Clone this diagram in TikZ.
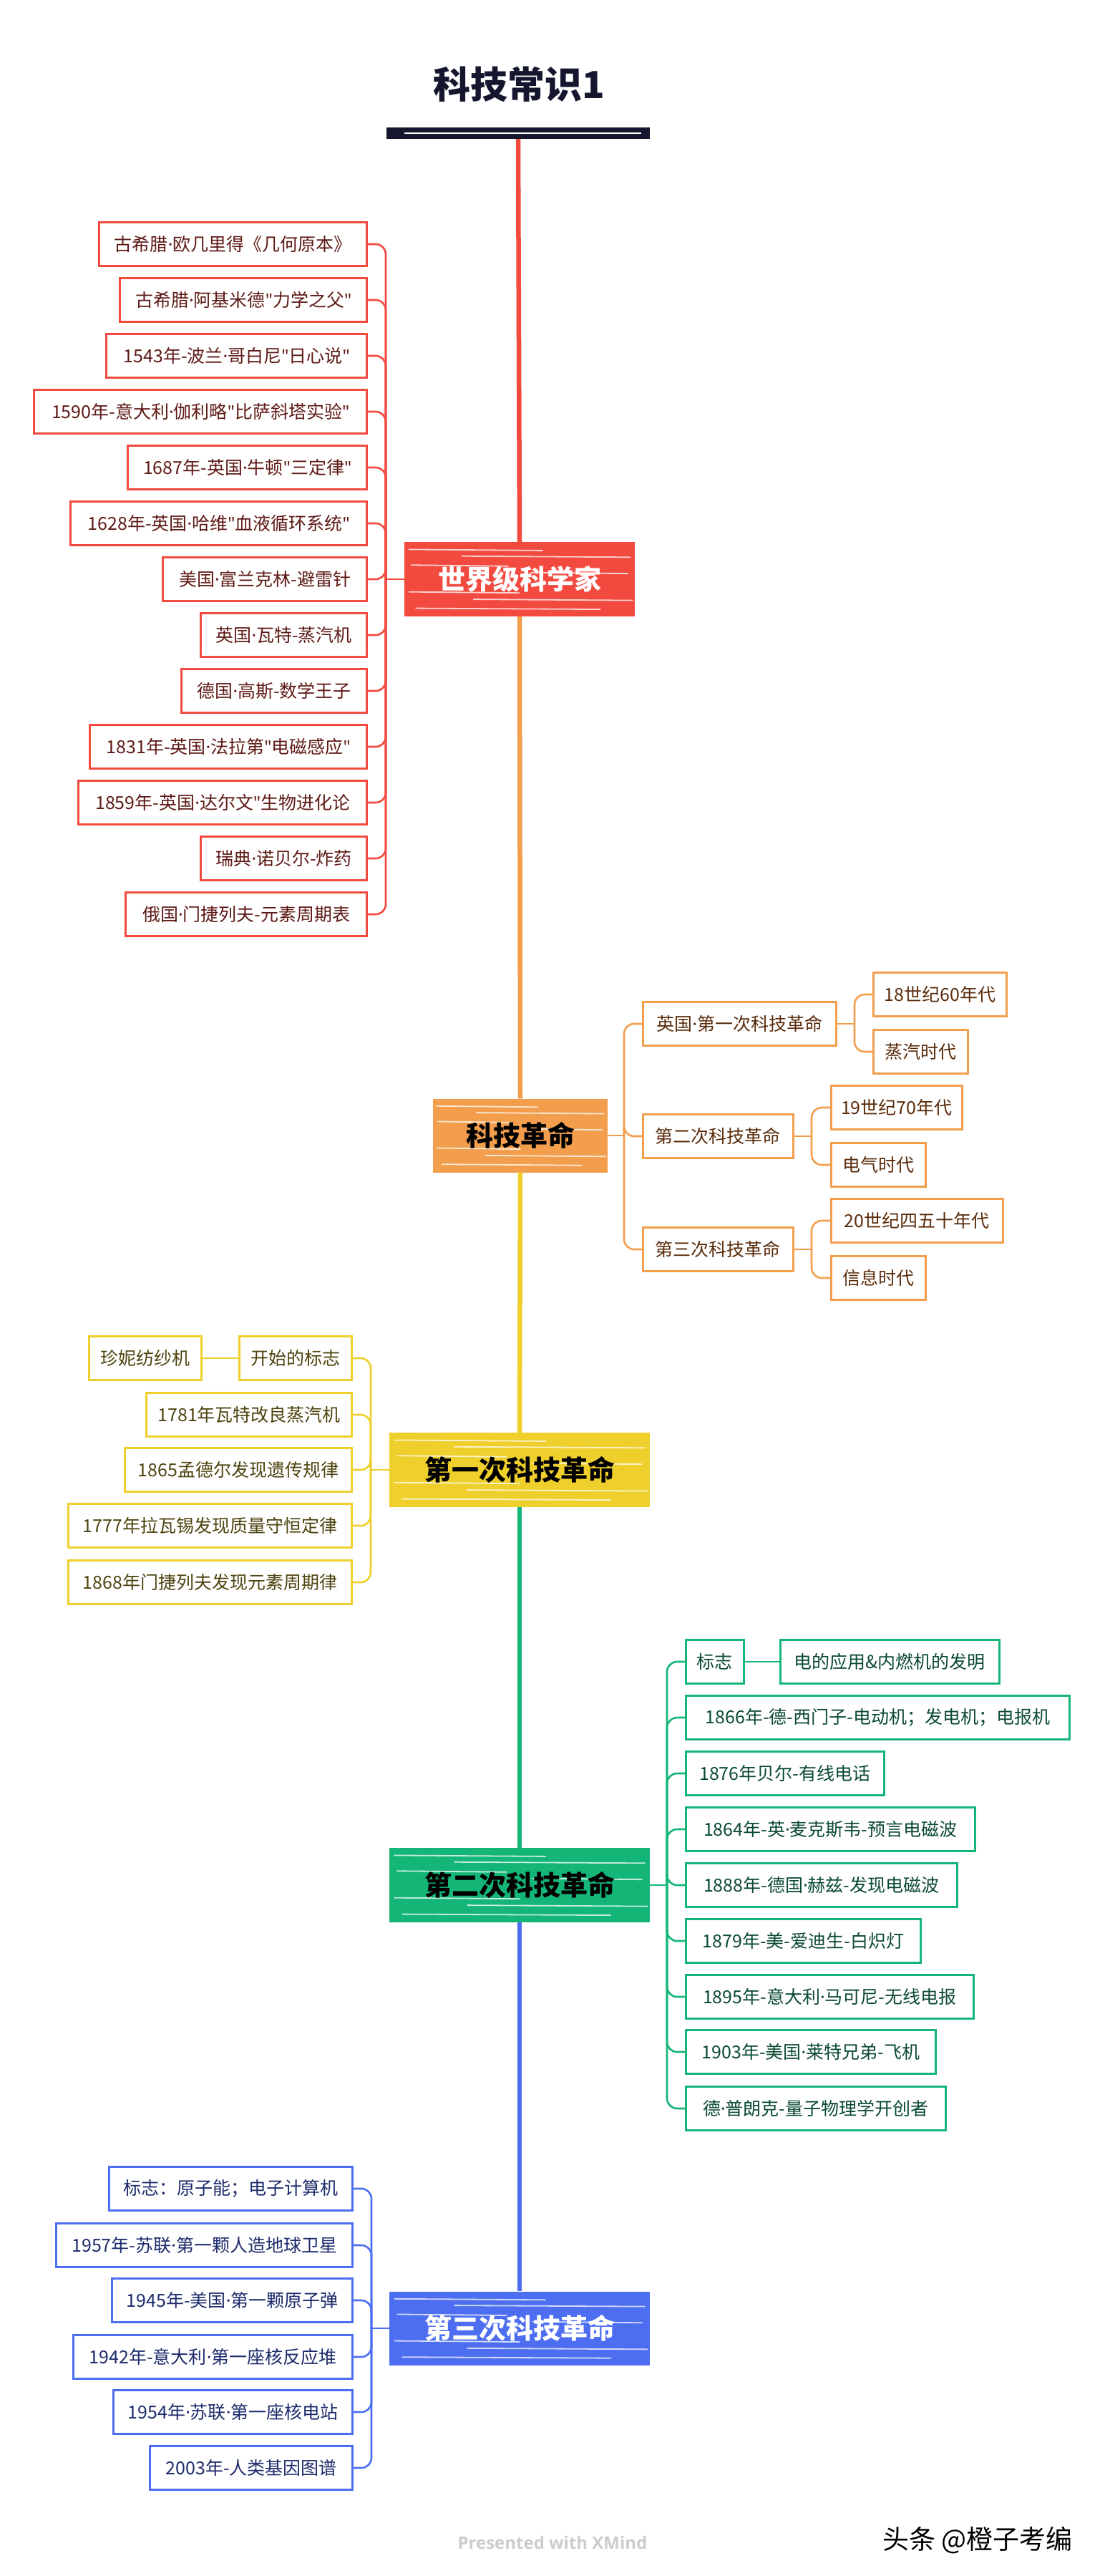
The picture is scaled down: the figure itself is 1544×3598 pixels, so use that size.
\documentclass[tikz,border=0pt]{standalone}
\usepackage{fontspec}
\setmainfont{Noto Sans CJK SC}
\newfontfamily\footf{Open Sans}
\newfontfamily\latn{Noto Sans}
\newcommand\xdot{{\latn ·}}
\newcommand\xq{{\latn "}}
\usetikzlibrary{calc}
\definecolor{cred}{HTML}{F24A3F}
\definecolor{credt}{HTML}{5E1A16}
\definecolor{cora}{HTML}{F39E4D}
\definecolor{corat}{HTML}{5A2C0C}
\definecolor{cyel}{HTML}{EFCF2B}
\definecolor{cyelt}{HTML}{4E4410}
\definecolor{cgre}{HTML}{14B678}
\definecolor{cgret}{HTML}{0B4A31}
\definecolor{cblu}{HTML}{4D6EF1}
\definecolor{cblut}{HTML}{1D2B6B}
\definecolor{cnav}{HTML}{14172E}
\definecolor{cfoot}{HTML}{CCCCCC}
\tikzset{
  box/.style={draw, line width=2.6pt, fill=white, minimum height=61pt, inner sep=0pt,
    font=\fontsize{25}{25}\selectfont, align=center},
  mainbox/.style={inner sep=0pt, font=\fontsize{38}{38}\selectfont\bfseries},
  conn/.style={line width=2.6pt, rounded corners=14pt},
  spine/.style={line width=6.5pt},
}
\newcommand\skh[4]{%
  \foreach \fy/\xa/\xb in {0.10/0.02/0.60, 0.19/0.25/0.98, 0.31/0.03/0.45, 0.41/0.55/0.97, 0.67/0.02/0.50, 0.77/0.30/0.99, 0.89/0.05/0.85}{
    \draw[white, line width=1.8pt, opacity=0.75, line cap=round]
      ({#1+(\xa-0.5)*#3},{#2+(\fy-0.5)*#4}) -- ({#1+(\xb-0.5)*#3},{#2+(\fy-0.5)*#4+1.5});
  }}
\newcommand\mainnode[8]{%
  \fill[#6] ({#2-#4/2},{#3-#5/2}) rectangle ({#2+#4/2},{#3+#5/2});
  \skh{#2}{#3}{#4}{#5}
  \node[mainbox, text=#7, minimum width=#4pt, minimum height=#5pt] (#1) at (#2,#3) {#8};}
\begin{document}
\begin{tikzpicture}[x=1pt,y=-1pt]
\useasboundingbox[fill=white] (0,0) rectangle (1544,3598);

% title and bar
\node[font=\fontsize{52}{52}\selectfont\bfseries, text=cnav] (title) at (725,118) {科技常识1};
\node[fill=cnav, minimum width=368pt, minimum height=16pt, inner sep=0pt] (bar) at (724,186) {};
\draw[white, line width=1.4pt] ($(bar.west)+(25,0)$) -- ($(bar.east)+(-12,0)$);

% main nodes
\mainnode{sci}{726}{809}{322}{104}{cred}{white}{世界级科学家}
\mainnode{ktm}{727}{1586}{244}{103}{cora}{black}{科技革命}
\mainnode{r1m}{726}{2053}{364}{104}{cyel}{black}{第一次科技革命}
\mainnode{r2m}{726}{2633}{364}{104}{cgre}{black}{第二次科技革命}
\mainnode{r3m}{726}{3252}{364}{103}{cblu}{white}{第三次科技革命}

% spine
\draw[spine, cred] (bar.south) -- (sci.north);
\draw[spine, cora] (sci.south) -- (ktm.north);
\draw[spine, cyel] (ktm.south) -- (r1m.north);
\draw[spine, cgre] (r1m.south) -- (r2m.north);
\draw[spine, cblu] (r2m.south) -- (r3m.north);

% ---------- red branch ----------
\begin{scope}[every node/.append style={box, draw=cred, text=credt, anchor=east}]
\node[minimum width=374pt] (a1) at (514,341) {古希腊\xdot 欧几里得《几何原本》};
\node[minimum width=345pt] (a2) at (514,419) {古希腊\xdot 阿基米德\xq 力学之父\xq};
\node[minimum width=364pt] (a3) at (514,497) {1543年-波兰\xdot 哥白尼\xq 日心说\xq};
\node[minimum width=465pt] (a4) at (514,575) {1590年-意大利\xdot 伽利略\xq 比萨斜塔实验\xq};
\node[minimum width=334pt] (a5) at (514,653) {1687年-英国\xdot 牛顿\xq 三定律\xq};
\node[minimum width=414pt] (a6) at (514,731) {1628年-英国\xdot 哈维\xq 血液循环系统\xq};
\node[minimum width=285pt] (a7) at (514,809) {美国\xdot 富兰克林-避雷针};
\node[minimum width=232pt] (a8) at (514,887) {英国\xdot 瓦特-蒸汽机};
\node[minimum width=259pt] (a9) at (514,965) {德国\xdot 高斯-数学王子};
\node[minimum width=387pt] (a10) at (514,1043) {1831年-英国\xdot 法拉第\xq 电磁感应\xq};
\node[minimum width=403pt] (a11) at (514,1121) {1859年-英国\xdot 达尔文\xq 生物进化论};
\node[minimum width=232pt] (a12) at (514,1199) {瑞典\xdot 诺贝尔-炸药};
\node[minimum width=337pt] (a13) at (514,1277) {俄国\xdot 门捷列夫-元素周期表};
\end{scope}
\coordinate (ja) at (539,809);
\draw[conn, cred] (sci.west) -- (ja);
\foreach \i in {1,...,13}{\draw[conn, cred] (ja) |- (a\i.east);}

% ---------- orange branch ----------
\begin{scope}[every node/.append style={box, draw=cora, text=corat, anchor=west}]
\node[minimum width=270pt] (s1) at (897,1430) {英国\xdot 第一次科技革命};
\node[minimum width=210pt] (s2) at (897,1587) {第二次科技革命};
\node[minimum width=210pt] (s3) at (897,1745) {第三次科技革命};
\node[minimum width=186pt] (l1) at (1219,1389) {18世纪60年代};
\node[minimum width=132pt] (l2) at (1219,1469) {蒸汽时代};
\node[minimum width=183pt] (l3) at (1160,1547) {19世纪70年代};
\node[minimum width=132pt] (l4) at (1160,1627) {电气时代};
\node[minimum width=240pt] (l5) at (1160,1705) {20世纪四五十年代};
\node[minimum width=132pt] (l6) at (1160,1785) {信息时代};
\end{scope}
\coordinate (jo) at (872,1586);
\draw[conn, cora] (ktm.east) -- (jo);
\foreach \i in {1,2,3}{\draw[conn, cora] (jo) |- (s\i.west);}
\coordinate (jo1) at (1194,1430);
\coordinate (jo2) at (1134,1587);
\coordinate (jo3) at (1134,1745);
\draw[conn, cora] (s1.east) -- (jo1);
\draw[conn, cora] (jo1) |- (l1.west);
\draw[conn, cora] (jo1) |- (l2.west);
\draw[conn, cora] (s2.east) -- (jo2);
\draw[conn, cora] (jo2) |- (l3.west);
\draw[conn, cora] (jo2) |- (l4.west);
\draw[conn, cora] (s3.east) -- (jo3);
\draw[conn, cora] (jo3) |- (l5.west);
\draw[conn, cora] (jo3) |- (l6.west);

% ---------- yellow branch ----------
\begin{scope}[every node/.append style={box, draw=cyel, text=cyelt, anchor=east}]
\node[minimum width=157pt] (y1) at (493,1897) {开始的标志};
\node[minimum width=157pt] (y0) at (283,1897) {珍妮纺纱机};
\node[minimum width=287pt] (y2) at (493,1976) {1781年瓦特改良蒸汽机};
\node[minimum width=317pt] (y3) at (493,2053) {1865孟德尔发现遗传规律};
\node[minimum width=396pt] (y4) at (493,2131) {1777年拉瓦锡发现质量守恒定律};
\node[minimum width=396pt] (y5) at (493,2210) {1868年门捷列夫发现元素周期律};
\end{scope}
\coordinate (jy) at (518,2053);
\draw[conn, cyel] (r1m.west) -- (jy);
\foreach \i in {1,...,5}{\draw[conn, cyel] (jy) |- (y\i.east);}
\draw[conn, cyel] (y1.west) -- (y0.east);

% ---------- green branch ----------
\begin{scope}[every node/.append style={box, draw=cgre, text=cgret, anchor=west}]
\node[minimum width=81pt] (g1) at (957,2321) {标志};
\node[minimum width=306pt] (g0) at (1089,2321) {电的应用\&内燃机的发明};
\node[minimum width=536pt] (g2) at (957,2399) {1866年-德-西门子-电动机；发电机；电报机};
\node[minimum width=277pt] (g3) at (957,2477) {1876年贝尔-有线电话};
\node[minimum width=404pt] (g4) at (957,2555) {1864年-英\xdot 麦克斯韦-预言电磁波};
\node[minimum width=379pt] (g5) at (957,2633) {1888年-德国\xdot 赫兹-发现电磁波};
\node[minimum width=328pt] (g6) at (957,2711) {1879年-美-爱迪生-白炽灯};
\node[minimum width=402pt] (g7) at (957,2789) {1895年-意大利\xdot 马可尼-无线电报};
\node[minimum width=349pt] (g8) at (957,2866) {1903年-美国\xdot 莱特兄弟-飞机};
\node[minimum width=363pt] (g9) at (957,2945) {德\xdot 普朗克-量子物理学开创者};
\end{scope}
\coordinate (jg) at (932,2633);
\draw[conn, cgre] (r2m.east) -- (jg);
\foreach \i in {1,...,9}{\draw[conn, cgre] (jg) |- (g\i.west);}
\draw[conn, cgre] (g1.east) -- (g0.west);

% ---------- blue branch ----------
\begin{scope}[every node/.append style={box, draw=cblu, text=cblut, anchor=east}]
\node[minimum width=340pt] (b1) at (494,3057) {标志：原子能；电子计算机};
\node[minimum width=414pt] (b2) at (494,3136) {1957年-苏联\xdot 第一颗人造地球卫星};
\node[minimum width=336pt] (b3) at (494,3213) {1945年-美国\xdot 第一颗原子弹};
\node[minimum width=390pt] (b4) at (494,3292) {1942年-意大利\xdot 第一座核反应堆};
\node[minimum width=334pt] (b5) at (494,3369) {1954年\xdot 苏联\xdot 第一座核电站};
\node[minimum width=283pt] (b6) at (494,3447) {2003年-人类基因图谱};
\end{scope}
\coordinate (jb) at (519,3252);
\draw[conn, cblu] (r3m.west) -- (jb);
\foreach \i in {1,...,6}{\draw[conn, cblu] (jb) |- (b\i.east);}

% footer
\node[font=\footf\fontsize{24}{24}\selectfont\bfseries, text=cfoot] (xm) at (772,3551) {Presented with XMind};
\node[font=\fontsize{37}{37}\selectfont, text=black] (wm) at (1366,3548) {头条 @橙子考编};
\end{tikzpicture}
\end{document}
